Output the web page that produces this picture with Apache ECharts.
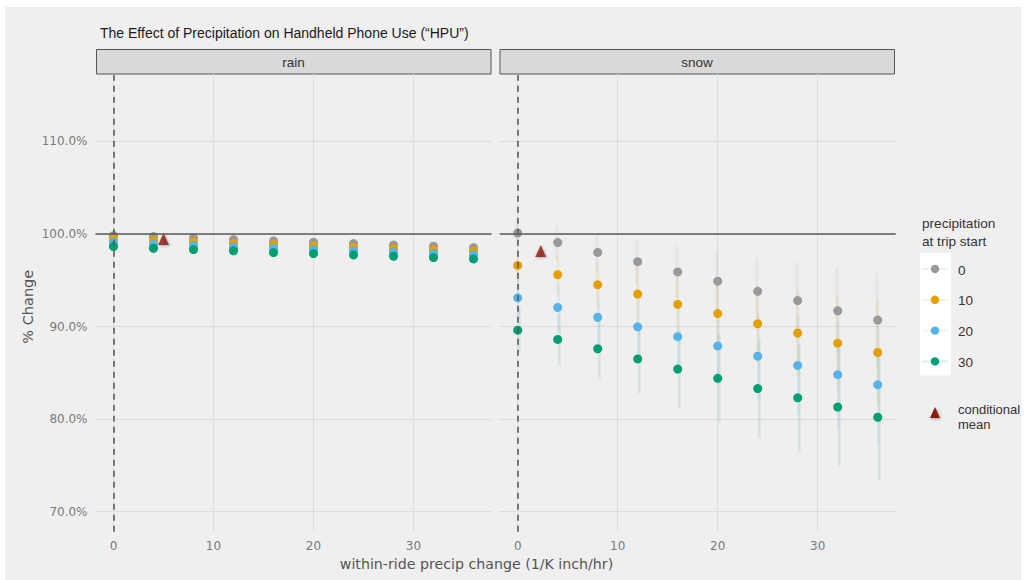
<!DOCTYPE html>
<html>
<head>
<meta charset="utf-8">
<title>Precipitation and Handheld Phone Use</title>
<script src="https://cdn.jsdelivr.net/npm/echarts@6/dist/echarts.min.js"></script>
<style>
  html, body { margin: 0; padding: 0; background: #ffffff; }
  #chart { width: 1024px; height: 580px; }
</style>
</head>
<body>
<div id="chart"></div>
<script>
// within-ride precipitation change (1/K inch/hr)
const steps = [0, 4, 8, 12, 16, 20, 24, 28, 32, 36];

// precipitation at trip start
const startLevels = ['0', '10', '20', '30'];
const levelColors = ['#999999', '#E69F00', '#56B4E9', '#009E73'];

// rain panel: estimated % change
const rain0  = [99.82, 99.71, 99.57, 99.39, 99.24, 99.10, 98.96, 98.81, 98.67, 98.53];
const rain10 = [99.46, 99.28, 99.14, 98.96, 98.85, 98.70, 98.56, 98.42, 98.27, 98.13];
const rain20 = [99.10, 98.88, 98.74, 98.60, 98.45, 98.31, 98.17, 98.02, 97.88, 97.74];
const rain30 = [98.63, 98.45, 98.31, 98.17, 97.99, 97.88, 97.73, 97.59, 97.45, 97.30];
// rain panel: half-width of intervals
const rainErr0  = [0.10, 0.12, 0.15, 0.18, 0.21, 0.24, 0.27, 0.30, 0.33, 0.36];
const rainErr10 = [0.12, 0.15, 0.18, 0.21, 0.25, 0.28, 0.31, 0.35, 0.38, 0.42];
const rainErr20 = [0.14, 0.17, 0.21, 0.25, 0.29, 0.33, 0.36, 0.40, 0.44, 0.48];
const rainErr30 = [0.16, 0.20, 0.24, 0.28, 0.33, 0.37, 0.41, 0.46, 0.50, 0.55];

// snow panel: estimated % change
const snow0  = [100.1, 99.07, 98.0, 97.0, 95.9, 94.9, 93.8, 92.8, 91.7, 90.7];
const snow10 = [96.6, 95.6, 94.5, 93.5, 92.4, 91.4, 90.3, 89.3, 88.2, 87.2];
const snow20 = [93.1, 92.06, 91.0, 89.97, 88.9, 87.9, 86.8, 85.8, 84.8, 83.7];
const snow30 = [89.6, 88.6, 87.6, 86.5, 85.4, 84.4, 83.3, 82.3, 81.3, 80.2];
// snow panel: half-width of intervals
const snowErr0  = [1.5, 1.8, 2.1, 2.4, 2.8, 3.2, 3.6, 4.1, 4.6, 5.1];
const snowErr10 = [1.8, 2.1, 2.5, 2.9, 3.2, 3.6, 4.1, 4.6, 5.1, 5.7];
const snowErr20 = [2.1, 2.5, 2.9, 3.3, 3.8, 4.2, 4.7, 5.3, 5.8, 6.3];
const snowErr30 = [2.4, 2.8, 3.3, 3.7, 4.2, 4.8, 5.3, 5.8, 6.4, 6.8];

// conditional means: [precip change, % change]
const rainMean = [5.0, 99.45];
const snowMean = [2.3, 98.15];

// axis ticks
const xTicks = [0, 10, 20, 30];
const yTicks = [70, 80, 90, 100, 110];

const panels = [
  { name: 'rain', values: [rain0, rain10, rain20, rain30], errs: [rainErr0, rainErr10, rainErr20, rainErr30], mean: rainMean },
  { name: 'snow', values: [snow0, snow10, snow20, snow30], errs: [snowErr0, snowErr10, snowErr20, snowErr30], mean: snowMean }
];

const SANS = '"Liberation Sans", Arial, Helvetica, sans-serif';
const DEJAVU = '"DejaVu Sans", Verdana, sans-serif';
const MEAN_COLOR = '#8c1a0f';

const gridLeft = [95.5, 499.7];
const gridTop = 74;
const gridW = 396;
const gridH = 457.7;

function fade(hex, a) {
  const n = parseInt(hex.slice(1), 16);
  return 'rgba(' + ((n >> 16) & 255) + ',' + ((n >> 8) & 255) + ',' + (n & 255) + ',' + a + ')';
}

const grids = [], xAxes = [], yAxes = [], series = [];

panels.forEach(function (p, pi) {
  grids.push({ left: gridLeft[pi], top: gridTop, width: gridW, height: gridH, containLabel: false });
  xAxes.push({
    type: 'value', gridIndex: pi, min: -1.8, max: 37.8,
    axisLine: { show: false }, axisTick: { show: false, customValues: xTicks },
    axisLabel: { show: true, customValues: xTicks, color: '#7a7a7a', fontFamily: DEJAVU, fontSize: 12, margin: 8 },
    splitLine: { show: true, lineStyle: { color: '#dcdcdc', width: 1 } }
  });
  yAxes.push({
    type: 'value', gridIndex: pi, min: 67.84, max: 117.27,
    axisLine: { show: false }, axisTick: { show: false, customValues: yTicks },
    axisLabel: {
      show: pi === 0, customValues: yTicks, color: '#7a7a7a', fontFamily: DEJAVU, fontSize: 12, margin: 8,
      formatter: function (v) { return v.toFixed(1) + '%'; }
    },
    splitLine: { show: true, lineStyle: { color: '#dcdcdc', width: 1 } }
  });

  // interval bars
  p.values.forEach(function (vals, gi) {
    const bars = steps.map(function (s, i) { return [s, vals[i] - p.errs[gi][i], vals[i] + p.errs[gi][i]]; });
    const col = fade(levelColors[gi], 0.11);
    series.push({
      type: 'custom', xAxisIndex: pi, yAxisIndex: pi, z: 2, silent: true,
      data: bars,
      renderItem: function (params, api) {
        const a = api.coord([api.value(0), api.value(1)]);
        const b = api.coord([api.value(0), api.value(2)]);
        const dx = (gi - 1) * 0.8;
        return { type: 'line', shape: { x1: a[0] + dx, y1: a[1], x2: b[0] + dx, y2: b[1] }, style: { stroke: col, lineWidth: 3 } };
      }
    });
  });

  // points
  p.values.forEach(function (vals, gi) {
    series.push({
      type: 'scatter', xAxisIndex: pi, yAxisIndex: pi, z: 3, silent: true,
      symbol: 'circle', symbolSize: 9,
      itemStyle: { color: levelColors[gi], opacity: 1 },
      data: steps.map(function (s, i) { return [s, vals[i]]; })
    });
  });

  // conditional mean
  series.push({
    type: 'scatter', xAxisIndex: pi, yAxisIndex: pi, z: 4, silent: true,
    symbol: 'triangle', symbolSize: [11, 12],
    itemStyle: { color: MEAN_COLOR, shadowBlur: 3, shadowColor: 'rgba(0,0,0,0.35)', shadowOffsetX: 1, shadowOffsetY: 1 },
    data: [p.mean]
  });

  // reference lines: no change (100%) and zero precipitation change
  series.push({
    type: 'scatter', xAxisIndex: pi, yAxisIndex: pi, z: 5, silent: true, data: [],
    markLine: {
      silent: true, symbol: 'none', animation: false, label: { show: false },
      data: [
        { yAxis: 100, lineStyle: { color: '#5a5a5a', width: 1.6, type: 'solid' } },
        { xAxis: 0, lineStyle: { color: '#5a5a5a', width: 1.6, type: [6, 5] } }
      ]
    }
  });
});

// facet strips
const graphics = [
  { type: 'rect', z: -10, silent: true, shape: { x: 5, y: 7, width: 1016, height: 573 }, style: { fill: '#efefef' } }
];
panels.forEach(function (p, pi) {
  const x0 = gridLeft[pi] + (pi === 0 ? 1 : 0.3);
  graphics.push({ type: 'rect', silent: true, shape: { x: x0, y: 49.5, width: 394.5, height: 24.5 }, style: { fill: '#d9d9d9', stroke: '#555555', lineWidth: 1 } });
  graphics.push({ type: 'text', silent: true, style: { text: p.name, x: x0 + 197, y: 62, align: 'center', verticalAlign: 'middle', font: '13.5px ' + SANS, fill: '#333333' } });
});

// titles
graphics.push({ type: 'text', silent: true, style: { text: 'The Effect of Precipitation on Handheld Phone Use (\u201cHPU\u201d)', x: 100, y: 33, align: 'left', verticalAlign: 'middle', font: '14px ' + SANS, fill: '#1a1a1a' } });
graphics.push({ type: 'text', silent: true, style: { text: 'within-ride precip change (1/K inch/hr)', x: 476.5, y: 564, align: 'center', verticalAlign: 'middle', font: '14.2px ' + DEJAVU, fill: '#555555' } });
graphics.push({ type: 'text', silent: true, rotation: Math.PI / 2, x: 28, y: 306.7, style: { text: '% Change', x: 0, y: 0, align: 'center', verticalAlign: 'middle', font: '14.5px ' + DEJAVU, fill: '#555555' } });

// legend
graphics.push({ type: 'text', silent: true, style: { text: 'precipitation', x: 922, y: 223, align: 'left', verticalAlign: 'middle', font: '13.6px ' + SANS, fill: '#333333' } });
graphics.push({ type: 'text', silent: true, style: { text: 'at trip start', x: 922, y: 241, align: 'left', verticalAlign: 'middle', font: '13.6px ' + SANS, fill: '#333333' } });
graphics.push({ type: 'rect', silent: true, shape: { x: 920, y: 253, width: 31, height: 122.5 }, style: { fill: '#ffffff' } });
startLevels.forEach(function (lab, gi) {
  const cy = 269 + gi * 30.8;
  graphics.push({ type: 'line', silent: true, shape: { x1: 922, y1: cy, x2: 948, y2: cy }, style: { stroke: fade(levelColors[gi], 0.15), lineWidth: 2 } });
  graphics.push({ type: 'circle', silent: true, shape: { cx: 935, cy: cy, r: 4.2 }, style: { fill: levelColors[gi] } });
  graphics.push({ type: 'text', silent: true, style: { text: lab, x: 958, y: cy + 1, align: 'left', verticalAlign: 'middle', font: '13.5px ' + SANS, fill: '#333333' } });
});
graphics.push({ type: 'polygon', silent: true, shape: { points: [[935, 407], [930, 418], [940, 418]] }, style: { fill: MEAN_COLOR, shadowBlur: 3, shadowColor: 'rgba(0,0,0,0.35)', shadowOffsetX: 1, shadowOffsetY: 1 } });
graphics.push({ type: 'text', silent: true, style: { text: 'conditional', x: 958, y: 409, align: 'left', verticalAlign: 'middle', font: '13px ' + SANS, fill: '#333333' } });
graphics.push({ type: 'text', silent: true, style: { text: 'mean', x: 958, y: 424, align: 'left', verticalAlign: 'middle', font: '13px ' + SANS, fill: '#333333' } });

const chart = echarts.init(document.getElementById('chart'), null, { renderer: 'svg', width: 1024, height: 580 });
chart.setOption({
  animation: false,
  backgroundColor: '#ffffff',
  grid: grids,
  xAxis: xAxes,
  yAxis: yAxes,
  series: series,
  graphic: graphics
});
</script>
</body>
</html>
